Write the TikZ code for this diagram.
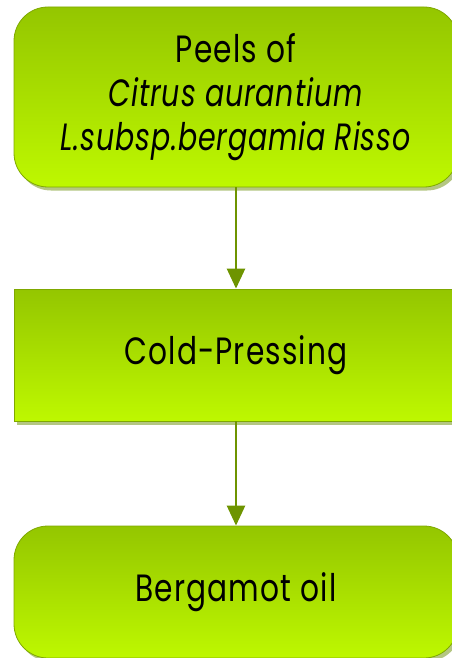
\documentclass[tikz,border=0pt]{standalone}
\usepackage{fontspec}
\setmainfont[FakeStretch=0.78, LetterSpace=3,
  ItalicFeatures={FakeStretch=0.75, LetterSpace=2.2}]{Poppins}
\usepackage{tikz}
\usetikzlibrary{arrows.meta,shadows}
\definecolor{boxtop}{HTML}{94C600}
\definecolor{boxbottom}{HTML}{BEF800}
\definecolor{boxline}{HTML}{7FA800}
\definecolor{shadowgreen}{HTML}{B4C682}
\definecolor{arrowgreen}{HTML}{6E9400}

\begin{document}
\begin{tikzpicture}[x=1pt,y=1pt,
  stepbox/.style={draw=boxline, line width=0.8pt, top color=boxtop, bottom color=boxbottom,
    minimum width=444pt, minimum height=132pt, inner sep=0pt, align=center,
    font=\fontsize{38}{44}\selectfont,
    drop shadow={shadow xshift=3pt, shadow yshift=-3.5pt, fill=shadowgreen, opacity=1}},
  roundbox/.style={stepbox, rounded corners=34pt},
  arr/.style={draw=arrowgreen, line width=2.6pt, -{Triangle[width=18pt,length=20pt]}}]
\useasboundingbox (0,0) rectangle (451,-658);
\node[roundbox, minimum height=180pt] (peels) at (236,-97) {Peels of\\ \textit{Citrus aurantium}\\ \textit{L.subsp.bergamia Risso}};
\node[stepbox] (press) at (236,-355) {Cold-Pressing};
\node[roundbox] (oil) at (236,-592) {Bergamot oil};
\draw[arr] (peels) -- (press);
\draw[arr] (press) -- (oil);
\end{tikzpicture}
\end{document}
